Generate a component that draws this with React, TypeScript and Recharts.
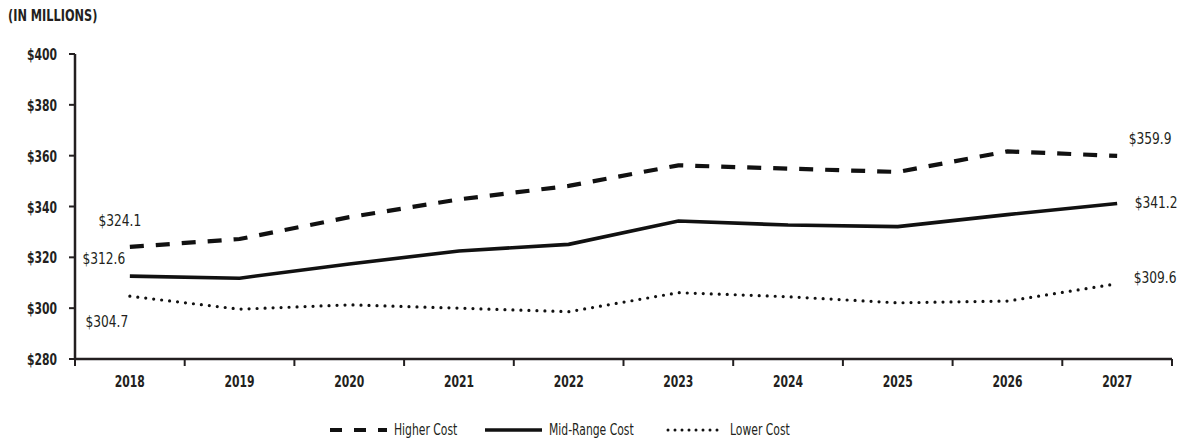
import React from "react"
import { LineChart, Line, XAxis, YAxis, LabelList } from "recharts"

const years = ["2018", "2019", "2020", "2021", "2022", "2023", "2024", "2025", "2026", "2027"]
const higherCost = [324.1, 327.2, 335.8, 342.8, 348.1, 356.2, 354.9, 353.6, 361.7, 359.9]
const midRangeCost = [312.6, 311.8, 317.4, 322.5, 325.1, 334.3, 332.7, 332.1, 336.8, 341.2]
const lowerCost = [304.7, 299.6, 301.3, 300.0, 298.6, 306.1, 304.5, 302.1, 302.8, 309.6]
const yTicks = [280, 300, 320, 340, 360, 380, 400]

const data = years.map((year, i) => ({
  year,
  higher: higherCost[i],
  mid: midRangeCost[i],
  lower: lowerCost[i],
}))

const FONT = "'DejaVu Sans Condensed', 'DejaVu Sans', sans-serif"
const INK = "#231f20"
const LINE = "#111"
const W = 1182
const H = 441
const X_AXIS_H = 30
const MARGIN = { top: 54, right: 10, bottom: 82 - X_AXIS_H, left: 0 }
const Y_AXIS_W = 75
const BAND = (W - MARGIN.left - MARGIN.right - Y_AXIS_W) / years.length

// narrow, tall lettering: squeeze a wider face horizontally
const Narrow = ({ x, y, anchor, size, weight, sx, children }: any) => (
  <g transform={`translate(${x},${y}) scale(${sx},1)`}>
    <text x={0} y={0} textAnchor={anchor} fontFamily={FONT} fontSize={size} fontWeight={weight} fill={INK}>
      {children}
    </text>
  </g>
)

// year label at band centre, tick marks on band edges
const XTick = (props: any) => {
  const { x, y, payload, index } = props
  const left = x - BAND / 2
  return (
    <g>
      <line x1={left} y1={y - 8} x2={left} y2={y - 1} stroke={INK} strokeWidth={2} />
      {index === years.length - 1 && (
        <line x1={x + BAND / 2} y1={y - 8} x2={x + BAND / 2} y2={y - 1} stroke={INK} strokeWidth={2} />
      )}
      <Narrow x={x} y={y + 20} anchor="middle" size={16} weight={700} sx={0.75}>
        {payload.value}
      </Narrow>
    </g>
  )
}

const YTick = (props: any) => {
  const { x, y, payload } = props
  return (
    <g>
      <line x1={x} y1={y} x2={x + 6} y2={y} stroke={INK} strokeWidth={2} />
      <Narrow x={x - 12} y={y + 6} anchor="end" size={16} weight={700} sx={0.75}>
        ${payload.value}
      </Narrow>
    </g>
  )
}

// value labels only on first and last points, offset per series
const endLabel = (first: [number, number], last: [number, number]) => (props: any) => {
  const { x, y, value, index } = props
  if (index !== 0 && index !== years.length - 1) return null
  const [dx, dy] = index === 0 ? first : last
  return (
    <Narrow x={x + dx} y={y + dy} anchor="middle" size={16} weight={400} sx={0.85}>
      ${value.toFixed(1)}
    </Narrow>
  )
}

const legendItems = [
  { label: "Higher Cost", left: 330, dash: "12 12", width: 4, cap: "butt" },
  { label: "Mid-Range Cost", left: 485, dash: undefined, width: 3.5, cap: "butt" },
  { label: "Lower Cost", left: 666, dash: "0 7", width: 3, cap: "round" },
]

const Legend = () => (
  <div style={{ position: "absolute", top: 419, left: 0, width: W, height: 22 }}>
    {legendItems.map((it) => (
      <div
        key={it.label}
        style={{ position: "absolute", left: it.left, top: 0, display: "flex", alignItems: "center", gap: 6 }}
      >
        <svg width={58} height={22} style={{ display: "block" }}>
          <line
            x1={it.cap === "round" ? 2 : 0}
            y1={11}
            x2={57}
            y2={11}
            stroke={LINE}
            strokeWidth={it.width}
            strokeDasharray={it.dash}
            strokeLinecap={it.cap as any}
          />
        </svg>
        <span
          style={{
            display: "inline-block",
            fontFamily: FONT,
            fontSize: 16,
            lineHeight: "22px",
            color: INK,
            whiteSpace: "nowrap",
            transform: "scaleX(0.75)",
            transformOrigin: "left center",
          }}
        >
          {it.label}
        </span>
      </div>
    ))}
  </div>
)

export default function App() {
  return (
    <div style={{ position: "fixed", left: 0, top: 0, width: W, height: H, background: "#fff", overflow: "hidden" }}>
      <div
        style={{
          position: "absolute",
          left: 8,
          top: 7,
          fontFamily: FONT,
          fontSize: 15,
          fontWeight: 700,
          color: INK,
          whiteSpace: "nowrap",
          transform: "scaleX(0.84)",
          transformOrigin: "left top",
        }}
      >
        (IN MILLIONS)
      </div>
      <LineChart width={W} height={H} data={data} margin={MARGIN}>
        <XAxis
          dataKey="year"
          height={X_AXIS_H}
          padding={{ left: BAND / 2, right: BAND / 2 }}
          axisLine={{ stroke: INK, strokeWidth: 2.5 }}
          tickLine={false}
          tick={<XTick />}
          interval={0}
        />
        <YAxis
          width={Y_AXIS_W}
          domain={[280, 400]}
          ticks={yTicks}
          axisLine={{ stroke: INK, strokeWidth: 2.5 }}
          tickLine={false}
          tick={<YTick />}
          tickMargin={0}
        />
        <Line
          dataKey="higher"
          type="linear"
          stroke={LINE}
          strokeWidth={4.2}
          strokeDasharray="14 12"
          dot={false}
          isAnimationActive={false}
        >
          <LabelList dataKey="higher" content={endLabel([-10, -21], [33, -12])} />
        </Line>
        <Line dataKey="mid" type="linear" stroke={LINE} strokeWidth={3.6} dot={false} isAnimationActive={false}>
          <LabelList dataKey="mid" content={endLabel([-26, -12], [39, 5])} />
        </Line>
        <Line
          dataKey="lower"
          type="linear"
          stroke={LINE}
          strokeWidth={3.2}
          strokeDasharray="0 8"
          strokeLinecap="round"
          dot={false}
          isAnimationActive={false}
        >
          <LabelList dataKey="lower" content={endLabel([-23, 31], [38, -1])} />
        </Line>
      </LineChart>
      <Legend />
    </div>
  )
}
